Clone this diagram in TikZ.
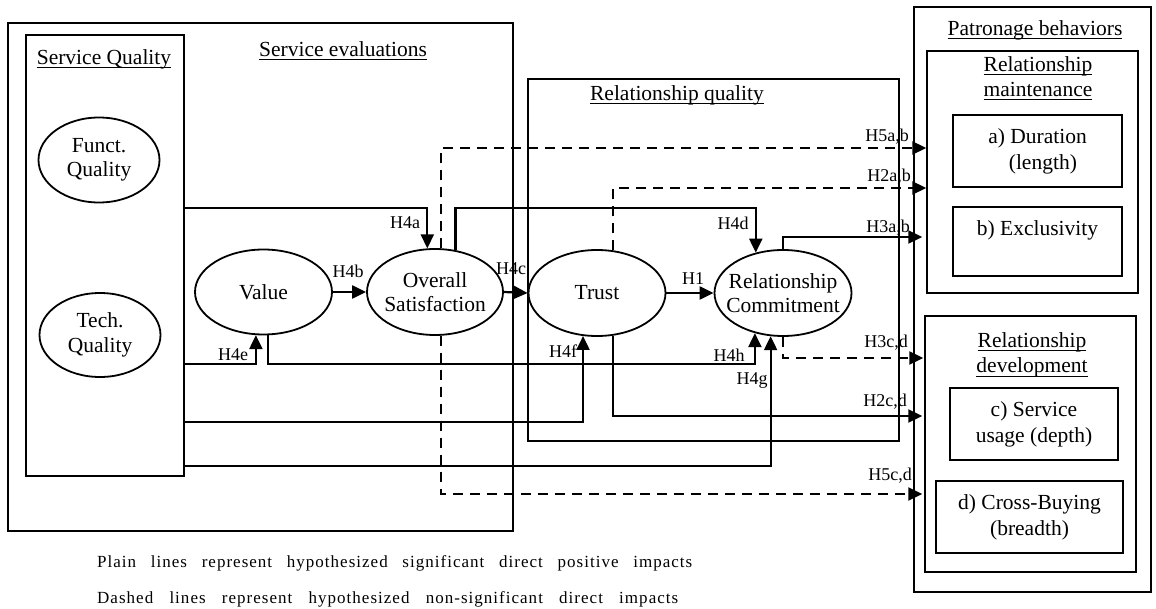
\documentclass[tikz,border=0pt]{standalone}
\usepackage{fontspec}
\setmainfont{Liberation Serif}
\newfontfamily\legendfont[LetterSpace=6]{Liberation Serif}
\usetikzlibrary{arrows.meta,shapes.geometric}
% underline with a thin rule just below the baseline
\newsavebox{\ulsave}
\newcommand{\ulined}[1]{\sbox{\ulsave}{#1}\rlap{\rule[-3.5pt]{\wd\ulsave}{1pt}}\usebox{\ulsave}}
\begin{document}
\begin{tikzpicture}[x=1pt,y=-1pt,
  frame/.style={draw, line width=1.5pt, inner sep=0pt},
  item/.style={draw, line width=1.2pt, inner sep=0pt, align=center,
    font=\fontsize{21.5}{26}\selectfont},
  construct/.style={draw, ellipse, line width=1.8pt, inner sep=-12pt,
    align=center, font=\fontsize{21.5}{24.5}\selectfont},
  title/.style={anchor=base, inner sep=0pt, align=center,
    font=\fontsize{21.5}{25.5}\selectfont},
  hyp/.style={inner sep=0pt, font=\fontsize{18}{20}\selectfont},
  conn/.style={line width=2.2pt, -{Triangle[length=14pt,width=13pt]}},
  dconn/.style={conn, dash pattern=on 10pt off 7pt},
  legend/.style={anchor=base west, inner sep=0pt,
    font=\legendfont\fontsize{17}{19}\selectfont}]
\useasboundingbox (0,0) rectangle (1156,609);

% ---- frames ----
\node[frame, minimum width=505pt, minimum height=508pt] (SE) at (260.5,277) {};
\node[frame, minimum width=158pt, minimum height=441pt] (SQ) at (105,255.5) {};
\node[frame, minimum width=371pt, minimum height=362pt] (RQ) at (713.5,260) {};
\node[frame, minimum width=237pt, minimum height=585pt] (PB) at (1032.5,299.5) {};
\node[frame, minimum width=211pt, minimum height=242pt] (RM) at (1032.5,172) {};
\node[frame, minimum width=211pt, minimum height=256pt] (RD) at (1030.5,444) {};

% ---- frame titles (base = baseline of the last line) ----
\node[title] (tSQ) at (104,65) {\ulined{Service Quality}};
\node[title] (tSE) at (343,57) {\ulined{Service evaluations}};
\node[title] (tRQ) at (677,101) {\ulined{Relationship quality}};
\node[title] (tPB) at (1035,36) {\ulined{Patronage behaviors}};
\node[title] (tRM) at (1038,97) {\ulined{Relationship}\\\ulined{maintenance}};
\node[title] (tRD) at (1032,373) {\ulined{Relationship}\\\ulined{development}};

% ---- outcome boxes ----
\node[item, minimum width=169pt, minimum height=72pt] (DUR) at (1037.5,151) {a) Duration\\\hspace{0.5em}(length)};
\node[item, minimum width=169pt, minimum height=69pt] (EXC) at (1037.5,241.5) {b) Exclusivity\\~};
\node[item, minimum width=168pt, minimum height=72pt] (USE) at (1034,424) {c) Service\\usage (depth)};
\node[item, minimum width=187pt, minimum height=72pt] (CROSS) at (1029.5,517) {d) Cross-Buying\\(breadth)};

% ---- constructs ----
\node[construct, minimum width=121pt, minimum height=85pt] (FQ) at (99,160) {Funct.\\Quality};
\node[construct, minimum width=121pt, minimum height=84pt] (TQ) at (100,335) {Tech.\\Quality};
\node[construct, minimum width=137pt, minimum height=85pt] (VAL) at (263.5,292) {Value};
\node[construct, minimum width=136pt, minimum height=86pt] (OS) at (435,292) {Overall\\Satisfaction};
\node[construct, minimum width=137pt, minimum height=86pt] (TR) at (597,293) {Trust};
\node[construct, minimum width=137pt, minimum height=86pt] (RC) at (783,293) {Relationship\\Commitment};

% ---- paths ----
\draw[conn] (VAL.east) -- (OS.west);
\draw[conn] (OS.east) -- (TR.west);
\draw[conn] (TR.east) -- (RC.west);
\draw[conn] (SQ.east |- 0,208) -| (OS.100);
\draw[conn] (OS.64) -- (OS.64 |- 0,208) -| (RC.124);
\draw[dconn] (OS.82) |- (RM.west |- 0,148);
\draw[dconn] (TR.69) |- (RM.west |- 0,188);
\draw[conn] (RC.90) |- ([xshift=-4pt]RM.west |- 0,237);
\draw[dconn] (RC.-90) |- ([xshift=-1pt]RD.west |- 0,358);
\draw[conn] (TR.-69) |- ([xshift=-2pt]RD.west |- 0,416);
\draw[dconn] (OS.-82) |- ([xshift=-2pt]RD.west |- 0,494);
\draw[conn] (SQ.east |- 0,364) -| (VAL.260);
\draw[conn] (VAL.276) |- (RC.235 |- 0,364) -- (RC.235);
\draw[conn] (SQ.east |- 0,422) -| (TR.252);
\draw[conn] (SQ.east |- 0,466) -| (RC.254);

% ---- hypothesis labels ----
\node[hyp] (lH4a) at (405,223) {H4a};
\node[hyp] (lH4b) at (348,271) {H4b};
\node[hyp] (lH4c) at (511,269) {H4c};
\node[hyp] (lH1) at (693,279) {H1};
\node[hyp] (lH4d) at (733,223) {H4d};
\node[hyp] (lH5ab) at (887,137) {H5a,b};
\node[hyp] (lH2ab) at (889,177) {H2a,b};
\node[hyp] (lH3ab) at (888,228) {H3a,b};
\node[hyp] (lH4e) at (233,355) {H4e};
\node[hyp] (lH4f) at (563,351) {H4f};
\node[hyp] (lH4h) at (729,355) {H4h};
\node[hyp] (lH4g) at (752,381) {H4g};
\node[hyp] (lH3cd) at (886,343) {H3c,d};
\node[hyp] (lH2cd) at (885,402) {H2c,d};
\node[hyp] (lH5cd) at (890,476) {H5c,d};

% ---- legend ----
\node[legend] (leg1) at (97,567) {\makebox[595pt][s]{Plain lines represent hypothesized significant direct positive impacts}};
\node[legend] (leg2) at (97,603) {\makebox[581pt][s]{Dashed lines represent hypothesized non-significant direct impacts}};
\end{tikzpicture}
\end{document}
